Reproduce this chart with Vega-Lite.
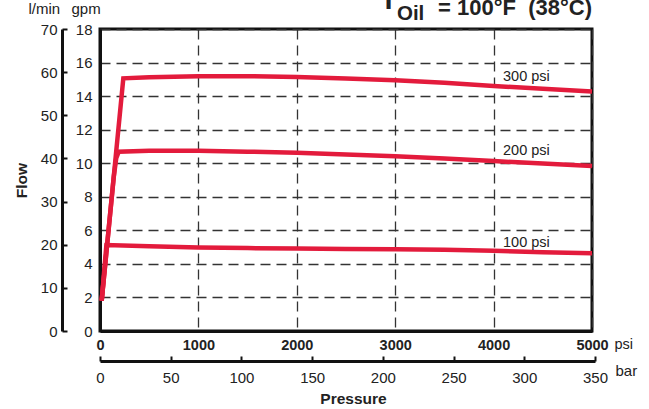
{
  "$schema": "https://vega.github.io/schema/vega-lite/v6.json",
  "width": 492,
  "height": 302,
  "autosize": "none",
  "padding": {"left": 100, "top": 29, "right": 57, "bottom": 78},
  "config": {
    "font": "Liberation Sans",
    "view": {"stroke": "#111", "strokeWidth": 3},
    "axis": {"labelColor": "#222", "titleColor": "#222", "labelFont": "Liberation Sans", "titleFont": "Liberation Sans"},
    "text": {"color": "#222", "font": "Liberation Sans"}
  },
  "datasets": {
    "curves": [
      {"curve": "300 psi", "psi": 17, "gpm": 1.8},
      {"curve": "300 psi", "psi": 237, "gpm": 15.06},
      {"curve": "300 psi", "psi": 500, "gpm": 15.12},
      {"curve": "300 psi", "psi": 1000, "gpm": 15.18},
      {"curve": "300 psi", "psi": 1500, "gpm": 15.19},
      {"curve": "300 psi", "psi": 2000, "gpm": 15.14},
      {"curve": "300 psi", "psi": 2500, "gpm": 15.05},
      {"curve": "300 psi", "psi": 3000, "gpm": 14.94},
      {"curve": "300 psi", "psi": 3500, "gpm": 14.79},
      {"curve": "300 psi", "psi": 4000, "gpm": 14.6},
      {"curve": "300 psi", "psi": 4500, "gpm": 14.44},
      {"curve": "300 psi", "psi": 5000, "gpm": 14.28},
      {"curve": "200 psi", "psi": 17, "gpm": 1.8},
      {"curve": "200 psi", "psi": 140, "gpm": 9.2},
      {"curve": "200 psi", "psi": 165, "gpm": 10.3},
      {"curve": "200 psi", "psi": 190, "gpm": 10.69},
      {"curve": "200 psi", "psi": 500, "gpm": 10.74},
      {"curve": "200 psi", "psi": 1000, "gpm": 10.74},
      {"curve": "200 psi", "psi": 1500, "gpm": 10.69},
      {"curve": "200 psi", "psi": 2000, "gpm": 10.62},
      {"curve": "200 psi", "psi": 2500, "gpm": 10.52},
      {"curve": "200 psi", "psi": 3000, "gpm": 10.41},
      {"curve": "200 psi", "psi": 3500, "gpm": 10.28},
      {"curve": "200 psi", "psi": 4000, "gpm": 10.13},
      {"curve": "200 psi", "psi": 4500, "gpm": 9.98},
      {"curve": "200 psi", "psi": 5000, "gpm": 9.83},
      {"curve": "100 psi", "psi": 17, "gpm": 1.8},
      {"curve": "100 psi", "psi": 65, "gpm": 5.12},
      {"curve": "100 psi", "psi": 500, "gpm": 5.05},
      {"curve": "100 psi", "psi": 1000, "gpm": 4.98},
      {"curve": "100 psi", "psi": 1500, "gpm": 4.94},
      {"curve": "100 psi", "psi": 2000, "gpm": 4.91},
      {"curve": "100 psi", "psi": 2500, "gpm": 4.89},
      {"curve": "100 psi", "psi": 3000, "gpm": 4.87},
      {"curve": "100 psi", "psi": 3500, "gpm": 4.85},
      {"curve": "100 psi", "psi": 4000, "gpm": 4.78},
      {"curve": "100 psi", "psi": 4500, "gpm": 4.7},
      {"curve": "100 psi", "psi": 5000, "gpm": 4.63}
    ],
    "labels": [
      {"label": "300 psi", "psi": 4096, "gpm": 14.9},
      {"label": "200 psi", "psi": 4096, "gpm": 10.49},
      {"label": "100 psi", "psi": 4096, "gpm": 5.0}
    ],
    "heading": [
      {"part": "T", "psi": 2932, "gpm": 19.2},
      {"part": "Oil", "psi": 3018, "gpm": 18.54},
      {"part": "= 100°F\u00a0\u00a0(38°C)", "psi": 5000, "gpm": 18.83}
    ],
    "lmin": [{"lmin": 0}, {"lmin": 70}],
    "bar": [{"bar": 0}, {"bar": 350}]
  },
  "resolve": {"scale": {"x": "independent", "y": "independent"}, "axis": {"x": "independent", "y": "independent"}},
  "layer": [
    {
      "encoding": {
        "x": {
          "field": "psi", "type": "quantitative",
          "scale": {"domain": [0, 5000], "nice": false, "zero": false},
          "axis": {
            "orient": "bottom", "values": [0, 1000, 2000, 3000, 4000, 5000], "format": "d",
            "ticks": false, "domain": true, "domainWidth": 3, "domainColor": "#111",
            "grid": true, "gridDash": [10, 6], "gridColor": "#333", "gridWidth": 1.3,
            "labelFontSize": 14.5, "labelFontWeight": "bold", "labelPadding": 7, "labelFlush": false,
            "title": "psi", "titleX": 514, "titleY": 17, "titleAlign": "left", "titleBaseline": "alphabetic",
            "titleFontSize": 14.5, "titleFontWeight": "normal", "titleAngle": 0
          }
        },
        "y": {
          "field": "gpm", "type": "quantitative",
          "scale": {"domain": [0, 18], "nice": false, "zero": false},
          "axis": {
            "orient": "left", "values": [0, 2, 4, 6, 8, 10, 12, 14, 16, 18],
            "ticks": false, "domain": true, "domainWidth": 3, "domainColor": "#111",
            "grid": true, "gridDash": [10, 6], "gridColor": "#333", "gridWidth": 1.3,
            "labelFontSize": 15, "labelPadding": 8, "labelFlush": false,
            "title": "gpm", "titleAngle": 0, "titleX": -29, "titleY": -16, "titleAlign": "left", "titleBaseline": "alphabetic",
            "titleFontSize": 15, "titleFontWeight": "normal"
          }
        }
      },
      "layer": [
        {
          "data": {"name": "curves"},
          "mark": {"type": "line", "color": "#e31b3c", "strokeWidth": 4.5, "strokeJoin": "miter", "strokeCap": "butt"},
          "encoding": {"detail": {"field": "curve"}}
        },
        {
          "data": {"name": "labels"},
          "mark": {"type": "text", "align": "left", "baseline": "alphabetic", "fontSize": 14.5},
          "encoding": {"text": {"field": "label"}}
        },
        {
          "data": {"name": "heading"},
          "transform": [{"filter": "datum.part === 'T'"}],
          "mark": {"type": "text", "fontSize": 28, "fontWeight": "bold", "align": "center", "baseline": "alphabetic"},
          "encoding": {"text": {"field": "part"}}
        },
        {
          "data": {"name": "heading"},
          "transform": [{"filter": "datum.part === 'Oil'"}],
          "mark": {"type": "text", "fontSize": 20.5, "fontWeight": "bold", "align": "left", "baseline": "alphabetic"},
          "encoding": {"text": {"field": "part"}}
        },
        {
          "data": {"name": "heading"},
          "transform": [{"filter": "datum.part !== 'T' && datum.part !== 'Oil'"}],
          "mark": {"type": "text", "fontSize": 22, "fontWeight": "bold", "align": "right", "baseline": "alphabetic"},
          "encoding": {"text": {"field": "part"}}
        }
      ]
    },
    {
      "data": {"name": "lmin"},
      "mark": {"type": "point", "opacity": 0},
      "encoding": {
        "y": {
          "field": "lmin", "type": "quantitative",
          "scale": {"domain": [0, 70], "nice": false, "zero": false},
          "axis": {
            "orient": "left", "offset": 38, "values": [0, 10, 20, 30, 40, 50, 60, 70],
            "grid": false, "domain": true, "domainWidth": 3, "domainColor": "#111",
            "ticks": true, "tickSize": -5, "tickWidth": 2, "tickColor": "#111",
            "labelFontSize": 15, "labelPadding": 10, "labelFlush": false,
            "title": "l/min", "titleAngle": 0, "titleX": -34, "titleY": -16, "titleAlign": "left", "titleBaseline": "alphabetic",
            "titleFontSize": 15, "titleFontWeight": "normal"
          }
        }
      }
    },
    {
      "data": {"name": "lmin"},
      "mark": {"type": "point", "opacity": 0},
      "encoding": {
        "y": {
          "field": "lmin", "type": "quantitative",
          "scale": {"domain": [0, 70], "nice": false, "zero": false},
          "axis": {
            "orient": "left", "labels": false, "ticks": false, "domain": false, "grid": false,
            "title": "Flow", "titleAngle": 270, "titleX": -79, "titleY": 151, "titleAlign": "center", "titleBaseline": "middle",
            "titleFontSize": 15.5, "titleFontWeight": "bold"
          }
        }
      }
    },
    {
      "data": {"name": "bar"},
      "mark": {"type": "point", "opacity": 0},
      "encoding": {
        "x": {
          "field": "bar", "type": "quantitative",
          "scale": {"domain": [0, 350], "range": [0, 495], "nice": false, "zero": false},
          "axis": {
            "orient": "bottom", "offset": 30, "values": [0, 50, 100, 150, 200, 250, 300, 350],
            "grid": false, "domain": true, "domainWidth": 3, "domainColor": "#111",
            "ticks": true, "tickSize": -5, "tickWidth": 2, "tickColor": "#111",
            "labelFontSize": 15, "labelPadding": 14, "labelFlush": false,
            "title": "bar", "titleX": 515, "titleY": 14, "titleAlign": "left", "titleBaseline": "alphabetic",
            "titleFontSize": 15, "titleFontWeight": "normal"
          }
        }
      }
    },
    {
      "data": {"name": "bar"},
      "mark": {"type": "point", "opacity": 0},
      "encoding": {
        "x": {
          "field": "bar", "type": "quantitative",
          "scale": {"domain": [0, 350], "nice": false, "zero": false},
          "axis": {
            "orient": "bottom", "labels": false, "ticks": false, "domain": false, "grid": false,
            "title": "Pressure", "titleX": 253, "titleY": 72, "titleAlign": "center", "titleBaseline": "alphabetic",
            "titleFontSize": 15.5, "titleFontWeight": "bold"
          }
        }
      }
    }
  ]
}
